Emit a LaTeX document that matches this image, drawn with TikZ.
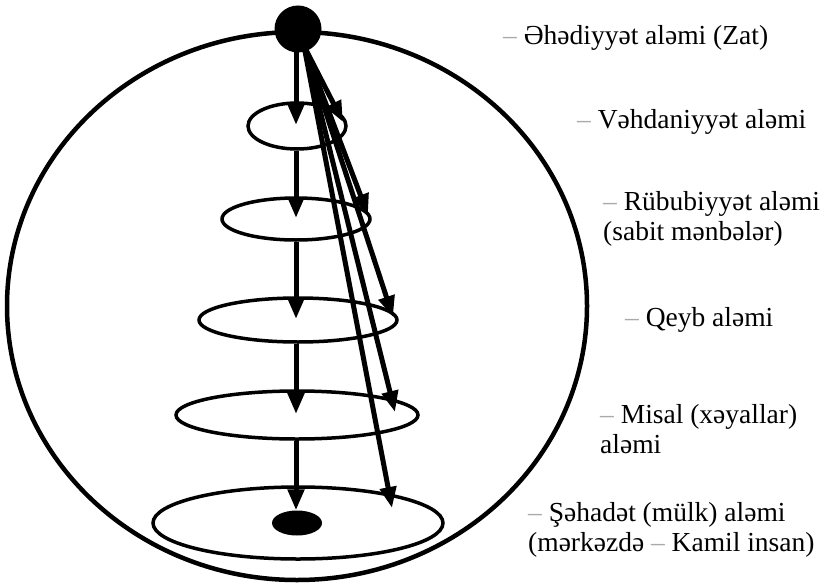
\documentclass[tikz,border=0pt]{standalone}
\usepackage{fontspec}
\setmainfont{Liberation Serif}
\usetikzlibrary{arrows.meta,shapes.geometric}
\definecolor{dashgray}{RGB}{170,170,170}
\newcommand{\gd}{{\color{dashgray}--}}
\tikzset{
  world/.style={draw, line width=3.5pt, ellipse, inner sep=0pt},
  arr/.style={line width=5pt, -{Triangle[length=21pt,width=16pt]}},
  lbl/.style={anchor=west, align=left, font=\fontsize{27.5}{30}\selectfont, inner sep=0pt},
}
\begin{document}
\begin{tikzpicture}[x=1pt,y=-1pt]
\useasboundingbox (0,0) rectangle (829,583);
% outer circle
\draw[line width=4.5pt] (297,306) ellipse [x radius=290, y radius=274];
% levels
\node[world, minimum width=98pt, minimum height=46pt] (e1) at (297,126) {};
\node[world, minimum width=148pt, minimum height=42pt] (e2) at (296,219) {};
\node[world, minimum width=198pt, minimum height=44pt] (e3) at (298,320) {};
\node[world, minimum width=242pt, minimum height=48pt] (e4) at (297,415) {};
\node[world, minimum width=290pt, minimum height=72pt] (e5) at (298,523) {};
\node[fill, ellipse, minimum width=50pt, minimum height=25pt, inner sep=0pt] (core) at (297,523) {};
% top dot
\node[fill, circle, minimum size=47pt, inner sep=0pt] (zat) at (298,29) {};
% tips
\coordinate (s) at (304,46);
\coordinate (t1) at (343,122);
\coordinate (t2) at (368,215);
\coordinate (t3) at (393,317);
\coordinate (t4) at (395,412);
\coordinate (t5) at (392,508);
\draw[arr] (s) -- (t1);
\draw[arr] (s) -- (t2);
\draw[arr] (s) -- (t3);
\draw[arr] (s) -- (t4);
\draw[arr] (s) -- (t5);
% vertical
\draw[arr] (296,50) -- (296,125);
\draw[arr] (e1.south -| 296,0) -- (296,218);
\draw[arr] (e2.south -| 296,0) -- (296,319);
\draw[arr] (e3.south -| 296,0) -- (296,414);
\draw[arr] (e4.south -| 296,0) -- (core.north -| 296,0);
% labels
\node[lbl] (l0) at (503,38) {\gd{} Əhədiyyət aləmi (Zat)};
\node[lbl] (l1) at (577,122) {\gd{} Vəhdaniyyət aləmi};
\node[lbl] (l2) at (603,219) {\gd{} Rübubiyyət aləmi\\(sabit mənbələr)};
\node[lbl] (l3) at (625,320) {\gd{} Qeyb aləmi};
\node[lbl] (l4) at (600,429) {\gd{} Misal (xəyallar)\\aləmi};
\node[lbl] (l5) at (528,530) {\gd{} Şəhadət (mülk) aləmi\\(mərkəzdə \gd{} Kamil insan)};
\end{tikzpicture}
\end{document}
